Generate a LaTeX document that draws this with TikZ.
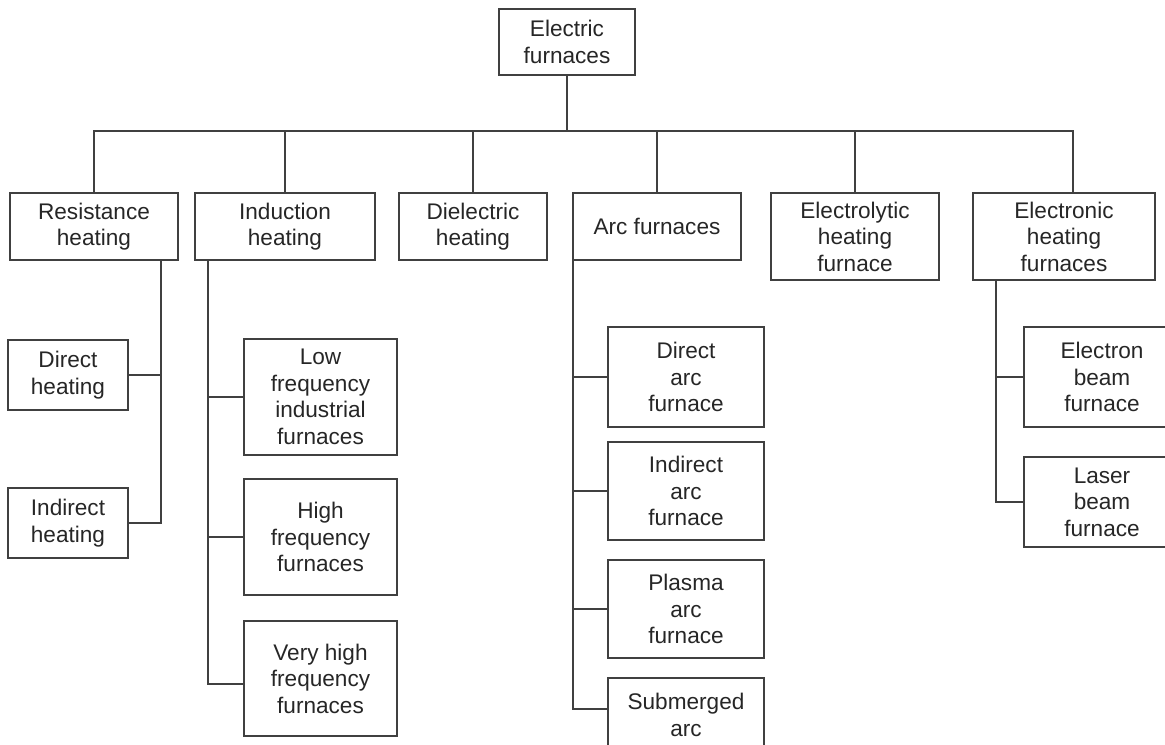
\documentclass[tikz,border=0pt]{standalone}
\usepackage{fontspec}
\setmainfont{Liberation Sans}

\begin{document}
\begin{tikzpicture}[x=0.5pt, y=-0.5pt, line width=0.9pt,
    box/.style={draw=black!75, rectangle, align=center, inner sep=0pt, text=black!85,
      font=\fontsize{11.3}{13.25}\selectfont},
    topbox/.style={box, minimum height=33.5pt},
    subbox/.style={box, minimum width=78pt, minimum height=50pt},
    wire/.style={draw=black!75}]
    \useasboundingbox (0,0) rectangle (1165,744);
    \clip (0,0) rectangle (1165,744);

    \node[box, minimum width=68pt, minimum height=33pt] (ef) at (567,42) {Electric\\furnaces};

    \node[topbox, minimum width=84pt]   (res) at (94,226.5)  {Resistance\\heating};
    \node[topbox, minimum width=90pt]   (ind) at (285,226.5) {Induction\\heating};
    \node[topbox, minimum width=74pt]   (die) at (473,226.5) {Dielectric\\heating};
    \node[topbox, minimum width=84pt]   (arc) at (657,226.5) {Arc furnaces};
    \node[box, minimum width=84pt, minimum height=43.5pt] (ely) at (855,236.5) {Electrolytic\\heating\\furnace};
    \node[box, minimum width=91pt, minimum height=43.5pt] (elh) at (1064,236.5) {Electronic\\heating\\furnaces};

    \node[box, minimum width=60pt, minimum height=35pt] (dh) at (68,375) {Direct\\heating};
    \node[box, minimum width=60pt, minimum height=35pt] (ih) at (68,523) {Indirect\\heating};

    \node[box, minimum width=76.5pt, minimum height=58pt] (lf)  at (320.5,397) {Low\\frequency\\industrial\\furnaces};
    \node[box, minimum width=76.5pt, minimum height=58pt] (hf)  at (320.5,537) {High\\frequency\\furnaces};
    \node[box, minimum width=76.5pt, minimum height=57.5pt] (vhf) at (320.5,678.5) {Very high\\frequency\\furnaces};

    \node[subbox] (da) at (686,377) {Direct\\arc\\furnace};
    \node[subbox, minimum height=49pt] (ia) at (686,491) {Indirect\\arc\\furnace};
    \node[subbox, minimum height=49pt] (pa) at (686,609) {Plasma\\arc\\furnace};
    \node[subbox] (sa) at (686,728) {Submerged\\arc\\\mbox{}};

    \node[subbox] (eb) at (1102,377) {Electron\\beam\\furnace};
    \node[subbox, minimum height=45pt] (lb) at (1102,502) {Laser\\beam\\furnace};

    % main bus
    \coordinate (bus) at (567,131);
    \draw[wire] (ef) -- (bus);
    \foreach \n in {res,ind,die,arc,ely}
      \draw[wire] (bus) -| (\n.north);
    \draw[wire] (bus) -| ([xshift=4.5pt]elh.north);

    % trunks
    \coordinate (rt) at (161,260);
    \coordinate (it) at (208,260);
    \coordinate (at) at (573,260);
    \coordinate (et) at (996,280);

    \draw[wire] (rt) |- (ih.east);
    \draw[wire] (dh.east) -- (dh.east -| rt);

    \draw[wire] (it) |- ([yshift=-2.75pt]vhf.west);
    \foreach \n in {lf,hf}
      \draw[wire] (\n.west) -- (\n.west -| it);

    \draw[wire] (at) |- ([yshift=9.5pt]sa.west);
    \foreach \n in {da,ia,pa}
      \draw[wire] (\n.west) -- (\n.west -| at);

    \draw[wire] (et) |- (lb.west);
    \draw[wire] (eb.west) -- (eb.west -| et);
\end{tikzpicture}
\end{document}
